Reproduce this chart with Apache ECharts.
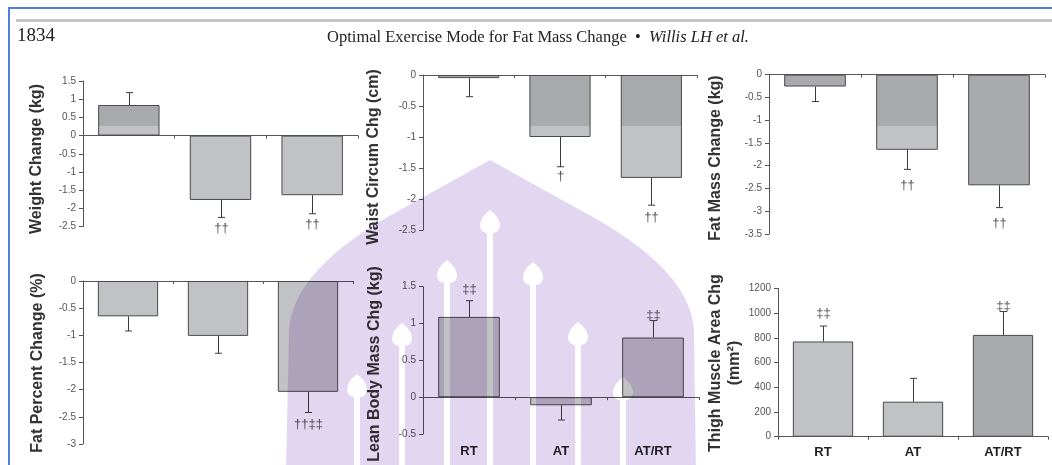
<!DOCTYPE html>
<html><head><meta charset="utf-8">
<script src="https://cdn.jsdelivr.net/npm/echarts@6/dist/echarts.min.js"></script>
<style>html,body{margin:0;padding:0;background:#fff}#c{width:1052px;height:465px}</style>
</head><body><div id="c"></div>
<script>
// ---------- data ----------
const categories = ['RT', 'AT', 'AT/RT'];

const weightMean = [0.84, -1.77, -1.64];
const weightErr  = [0.34, 0.48, 0.51];
const weightMark = ['', '††', '††'];
const weightAxis = [-2.5, 1.5, 0.5];

const waistMean = [-0.05, -1.00, -1.66];
const waistErr  = [0.30, 0.48, 0.44];
const waistMark = ['', '†', '††'];
const waistAxis = [-2.5, 0, 0.5];

const fatMassMean = [-0.26, -1.65, -2.43];
const fatMassErr  = [0.33, 0.43, 0.49];
const fatMassMark = ['', '††', '††'];
const fatMassAxis = [-3.5, 0, 0.5];

const fatPctMean = [-0.65, -1.01, -2.04];
const fatPctErr  = [0.27, 0.32, 0.38];
const fatPctMark = ['', '', '††‡‡'];
const fatPctAxis = [-3, 0, 0.5];

const leanMean = [1.09, -0.11, 0.81];
const leanErr  = [0.22, 0.20, 0.23];
const leanMark = ['‡‡', '', '‡‡'];
const leanAxis = [-0.5, 1.5, 0.5];

const thighMean = [770, 283, 823];
const thighErr  = [125, 189, 189];
const thighMark = ['‡‡', '', '‡‡'];
const thighAxis = [0, 1200, 200];

// ---------- styling / layout ----------
const SANS = "Arial, 'Liberation Sans', sans-serif";
const SERIF = "'Liberation Serif', 'Times New Roman', serif";
const DARK = '#a9aaad', LIGHT = '#c1c2c5';
const SPLIT = new echarts.graphic.LinearGradient(0, 0, 0, 465, [
  {offset: 0, color: DARK}, {offset: 126 / 465, color: DARK},
  {offset: 126 / 465, color: LIGHT}, {offset: 1, color: LIGHT}], true);
const FILL = {split: SPLIT, light: LIGHT, dark: DARK};

const panels = [
  {title: ['Weight Change (kg)'], tx: [37], ty: 159, mean: weightMean, err: weightErr, mark: weightMark, axis: weightAxis,
   grid: {left: 83, top: 81, width: 275, height: 145.5}, fills: ['split', 'split', 'split'], gap: [11, 11, 11]},
  {title: ['Waist Circum Chg (cm)'], tx: [374], ty: 157, mean: waistMean, err: waistErr, mark: waistMark, axis: waistAxis,
   grid: {left: 423, top: 75, width: 274, height: 155}, fills: ['split', 'split', 'split'], gap: [11, 10, 12]},
  {title: ['Fat Mass Change (kg)'], tx: [716], ty: 158, mean: fatMassMean, err: fatMassErr, mark: fatMassMark, axis: fatMassAxis,
   grid: {left: 769, top: 74.7, width: 276, height: 159.3}, fills: ['split', 'split', 'dark'], gap: [16, 16, 16]},
  {title: ['Fat Percent Change (%)'], tx: [38], ty: 363, mean: fatPctMean, err: fatPctErr, mark: fatPctMark, axis: fatPctAxis,
   grid: {left: 83, top: 281, width: 270, height: 163}, fills: ['light', 'light', 'light'], gap: [12, 12, 12]},
  {title: ['Lean Body Mass Chg (kg)'], tx: [375], ty: 364, mean: leanMean, err: leanErr, mark: leanMark, axis: leanAxis,
   grid: {left: 423, top: 286.7, width: 276, height: 147.3}, fills: ['light', 'light', 'light'], gap: [11, 11, 5],
   xlabels: true, labelMargin: 11},
  {title: ['Thigh Muscle Area Chg', '(mm²)'], tx: [716, 735], ty: 363, mean: thighMean, err: thighErr, mark: thighMark, axis: thighAxis,
   grid: {left: 778, top: 288.3, width: 270, height: 148.4}, fills: ['light', 'light', 'dark'], gap: [13, 13, 5],
   xlabels: true, labelMargin: 9}
];

const grids = [], xAxes = [], yAxes = [], series = [], graphics = [];

panels.forEach((p, k) => {
  grids.push(Object.assign({}, p.grid));
  const xi = xAxes.length;
  xAxes.push({
    gridIndex: k, type: 'category', data: categories, position: 'bottom',
    axisLine: {show: true, onZero: true, lineStyle: {color: '#555', width: 1}},
    axisTick: {show: true, length: 3, lineStyle: {color: '#555'}},
    axisLabel: {show: false}, splitLine: {show: false}
  });
  if (p.xlabels) {
    xAxes.push({
      gridIndex: k, type: 'category', data: categories, position: 'bottom',
      axisLine: {show: false, onZero: false}, axisTick: {show: false},
      axisLabel: {show: true, margin: p.labelMargin, color: '#222', fontFamily: SANS, fontWeight: 'bold', fontSize: 13},
      splitLine: {show: false}
    });
  }
  yAxes.push({
    gridIndex: k, type: 'value', min: p.axis[0], max: p.axis[1], interval: p.axis[2],
    axisLine: {show: true, lineStyle: {color: '#555', width: 1}},
    axisTick: {show: true, length: 4, lineStyle: {color: '#555'}},
    axisLabel: {color: '#555', fontFamily: SANS, fontSize: 10, margin: 7, formatter: v => String(+v.toFixed(2))},
    splitLine: {show: false}
  });
  series.push({
    type: 'bar', xAxisIndex: xi, yAxisIndex: k, barWidth: '67%',
    data: p.mean.map((v, i) => ({value: v, itemStyle: {color: FILL[p.fills[i]]}})),
    itemStyle: {borderColor: '#4a4a4a', borderWidth: 1},
    emphasis: {disabled: true}, z: 2
  });
  series.push({
    type: 'custom', xAxisIndex: xi, yAxisIndex: k, z: 5,
    data: p.mean.map((v, i) => [i, v, p.err[i]]),
    encode: {x: 0, y: 1},
    renderItem: (params, api) => {
      const i = api.value(0), m = api.value(1), e = api.value(2);
      const end = m >= 0 ? m + e : m - e;
      const a = api.coord([i, m]), b = api.coord([i, end]);
      const x = Math.round(a[0]) + 0.5;
      const dir = m >= 0 ? -1 : 1;
      const children = [
        {type: 'line', shape: {x1: x, y1: a[1], x2: x, y2: b[1]}, style: {stroke: '#3c3c3c', lineWidth: 1}},
        {type: 'line', shape: {x1: x - 3.5, y1: b[1], x2: x + 3.5, y2: b[1]}, style: {stroke: '#3c3c3c', lineWidth: 1}}
      ];
      const t = p.mark[params.dataIndex];
      if (t) children.push({type: 'text', x: x, y: b[1] + dir * p.gap[params.dataIndex],
        style: {text: t, fill: '#555', font: '13px ' + SANS, align: 'center', verticalAlign: 'middle'}});
      return {type: 'group', children};
    }
  });
  p.title.forEach((t, j) => {
    graphics.push({type: 'text', x: p.tx[j], y: p.ty, rotation: Math.PI / 2, z: 10,
      style: {text: t, fill: '#333', font: 'bold 16px ' + SANS, align: 'center', verticalAlign: 'middle'}});
  });
});

// page furniture
graphics.push({type: 'rect', shape: {x: 9, y: 8, width: 1100, height: 500}, style: {fill: 'none', stroke: '#4f80d6', lineWidth: 2}, z: 1});
graphics.push({type: 'rect', shape: {x: 16, y: 19, width: 1050, height: 3}, style: {fill: '#c6c6c6'}, z: 1});
graphics.push({type: 'text', x: 17, y: 36, z: 10, style: {text: '1834', fill: '#222', font: '19px ' + SERIF, align: 'left', verticalAlign: 'middle'}});
graphics.push({type: 'text', x: 538, y: 38, z: 10, style: {
  text: '{a|Optimal Exercise Mode for Fat Mass Change  •  }{b|Willis LH et al.}',
  align: 'center', verticalAlign: 'middle',
  rich: {a: {font: '16.5px ' + SERIF, fill: '#222'}, b: {font: 'italic 16.5px ' + SERIF, fill: '#222'}}}});

// watermark (dome with minaret holes), multiplied over the page
const minarets = [[490, 210], [447, 260], [533, 262], [402, 323], [578, 322], [357, 374], [623, 377]];
echarts.graphic.registerShape('watermark', echarts.graphic.extendShape({
  shape: {},
  buildPath(ctx) {
    // outer dome, clockwise
    ctx.moveTo(490, 160);
    ctx.lineTo(580, 210);
    ctx.quadraticCurveTo(690, 268, 694, 330);
    ctx.lineTo(696, 472);
    ctx.lineTo(286, 472);
    ctx.lineTo(289, 330);
    ctx.quadraticCurveTo(293, 268, 400, 210);
    ctx.closePath();
    // holes, counter-clockwise
    minarets.forEach(([cx, top]) => {
      ctx.moveTo(cx, top);
      ctx.quadraticCurveTo(cx - 10, top + 8, cx - 10, top + 15);
      ctx.quadraticCurveTo(cx - 10, top + 22, cx - 3, top + 23);
      ctx.lineTo(cx - 3, 468);
      ctx.lineTo(cx + 3, 468);
      ctx.lineTo(cx + 3, top + 23);
      ctx.quadraticCurveTo(cx + 10, top + 22, cx + 10, top + 15);
      ctx.quadraticCurveTo(cx + 10, top + 8, cx, top);
      ctx.closePath();
    });
  }
}));
graphics.push({type: 'watermark', z: 100, silent: true, shape: {}, style: {fill: '#e3d6f1', blend: 'multiply'}});

const chart = echarts.init(document.getElementById('c'), null, {renderer: 'canvas'});
chart.setOption({
  backgroundColor: '#fff', animation: false,
  grid: grids, xAxis: xAxes, yAxis: yAxes, series: series,
  graphic: {elements: graphics}
});
</script></body></html>
